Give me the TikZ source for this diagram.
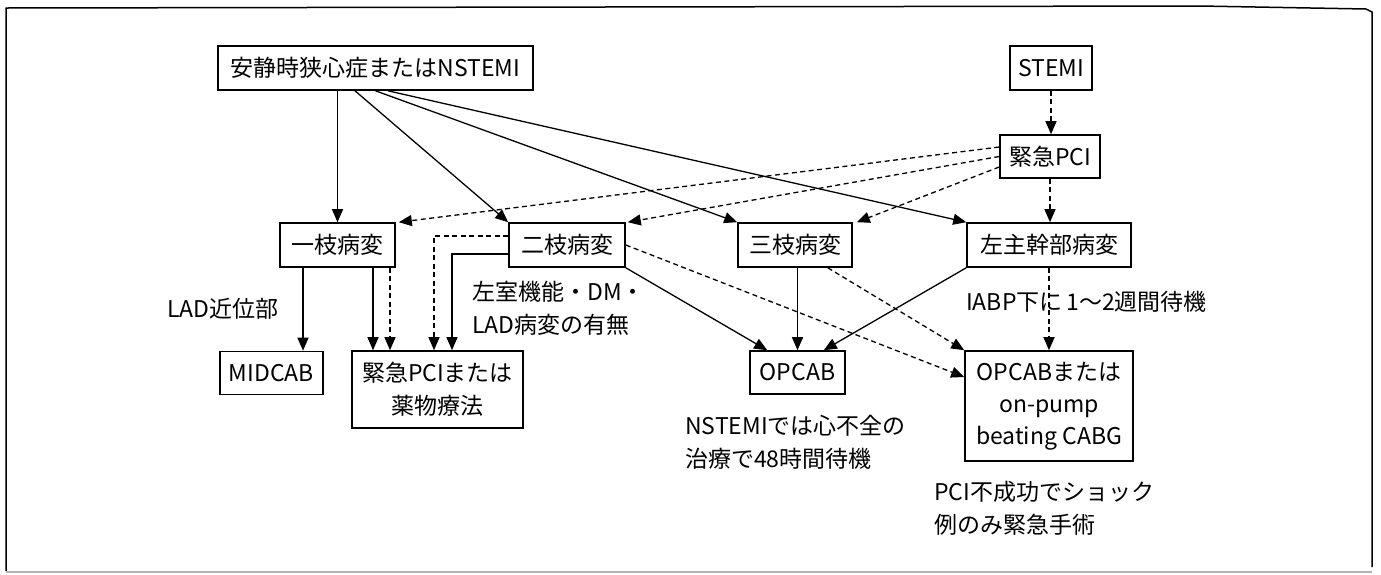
\documentclass[tikz,border=0pt]{standalone}
\usepackage{fontspec}
\setmainfont{Noto Sans CJK JP}
\usetikzlibrary{arrows.meta}
\begin{document}
\begin{tikzpicture}[x=1pt,y=-1pt,
  box/.style={draw, line width=1.6pt, inner sep=0pt, align=center, font=\fontsize{23}{33}\selectfont},
  lbl/.style={inner sep=0pt, align=left, anchor=west, font=\fontsize{23}{33}\selectfont},
  sarr/.style={line width=1.3pt, -{Triangle[length=13pt,width=11pt]}},
  darr/.style={sarr, dash pattern=on 5pt off 3.5pt},
  frameline/.style={line width=1.5pt},
]
\useasboundingbox (0,0) rectangle (1381,574);
% frame
\draw[frameline] (6,571) -- (6,8) -- (1200,6) -- (1366,9) -- (1372,12) -- (1372,567);
\draw[gray!60, line width=1.2pt] (6,572) -- (1372,572);

% boxes
\node[box, minimum width=315pt, minimum height=44pt] (main) at (375.5,68) {安静時狭心症またはNSTEMI};
\node[box, minimum width=82pt, minimum height=44pt] (stemi) at (1051,68) {STEMI};
\node[box, minimum width=100pt, minimum height=43pt] (pci) at (1050,156.5) {緊急PCI};
\node[box, minimum width=115pt, minimum height=44pt] (ichi) at (337.5,245) {一枝病変};
\node[box, minimum width=116pt, minimum height=44pt] (ni) at (567,245) {二枝病変};
\node[box, minimum width=114pt, minimum height=44pt] (san) at (795,245) {三枝病変};
\node[box, minimum width=164pt, minimum height=44pt] (hidari) at (1049,245) {左主幹部病変};
\node[box, minimum width=103pt, minimum height=43pt] (midcab) at (271.5,373) {MIDCAB};
\node[box, minimum width=171pt, minimum height=77pt] (kpci) at (437.5,389.5) {緊急PCIまたは\\薬物療法};
\node[box, minimum width=95pt, minimum height=43pt] (opcab) at (797.5,372.5) {OPCAB};
\node[box, minimum width=168pt, minimum height=110pt, font=\fontsize{23}{32}\selectfont] (opcab2) at (1049,406) {OPCABまたは\\on-pump\\beating CABG};

% labels
\node[lbl] (lad) at (167,309) {LAD近位部};
\node[lbl] (lv) at (472,308.5) {左室機能・DM・\\LAD病変の有無};
\node[lbl] (nst) at (685,442.5) {NSTEMIでは心不全の\\治療で48時間待機};
\node[lbl] (iabp) at (966,302) {IABP下に\,1〜2週間待機};
\node[lbl] (pcif) at (934,508) {PCI不成功でショック\\例のみ緊急手術};

% solid from main
\draw[sarr] (main.south -| ichi.north) -- (ichi.north);
\draw[sarr] ([xshift=-20.5pt]main.south) -- (ni.north west);
\draw[sarr] (main.south) -- (san.north west);
\draw[sarr] ([xshift=12.5pt]main.south) -- (hidari.north west);

% dashed from STEMI / PCI
\draw[darr] (stemi.south) -- (stemi.south |- pci.north);
\draw[darr] (pci.south) -- (pci.south |- hidari.north);
\draw[darr] ([yshift=9.5pt]pci.west) -- ([xshift=3pt]ichi.north east);
\draw[darr] (pci.west) -- ([xshift=2pt]ni.north east);
\draw[darr] ([yshift=-10.5pt]pci.west) -- ([xshift=4pt]san.north east);

% from ichi
\draw[sarr] ([xshift=31.5pt]midcab.north |- ichi.south) -- ([xshift=31.5pt]midcab.north);
\draw[sarr] ([xshift=-64.5pt]kpci.north |- ichi.south) -- ([xshift=-64.5pt]kpci.north);
\draw[darr] ([xshift=-47.5pt]kpci.north |- ichi.south) -- ([xshift=-47.5pt]kpci.north);

% from ni
\draw[darr] ([yshift=9pt]ni.west) -| ([xshift=-3.5pt]kpci.north);
\draw[sarr] ([yshift=-9pt]ni.west) -| ([xshift=14.5pt]kpci.north);
\draw[sarr] (ni.south east) -- ([xshift=18pt]opcab.north west);
\draw[darr] (ni.east) -- ([yshift=29pt]opcab2.west);

% from san
\draw[sarr] (san.south -| opcab.north) -- (opcab.north);
\draw[darr] ([xshift=-25pt]san.south east) -- (opcab2.north west);

% from hidari
\draw[sarr] (hidari.south west) -- ([xshift=-22pt]opcab.north east);
\draw[darr] (hidari.south) -- (hidari.south |- opcab2.north);
\end{tikzpicture}
\end{document}
